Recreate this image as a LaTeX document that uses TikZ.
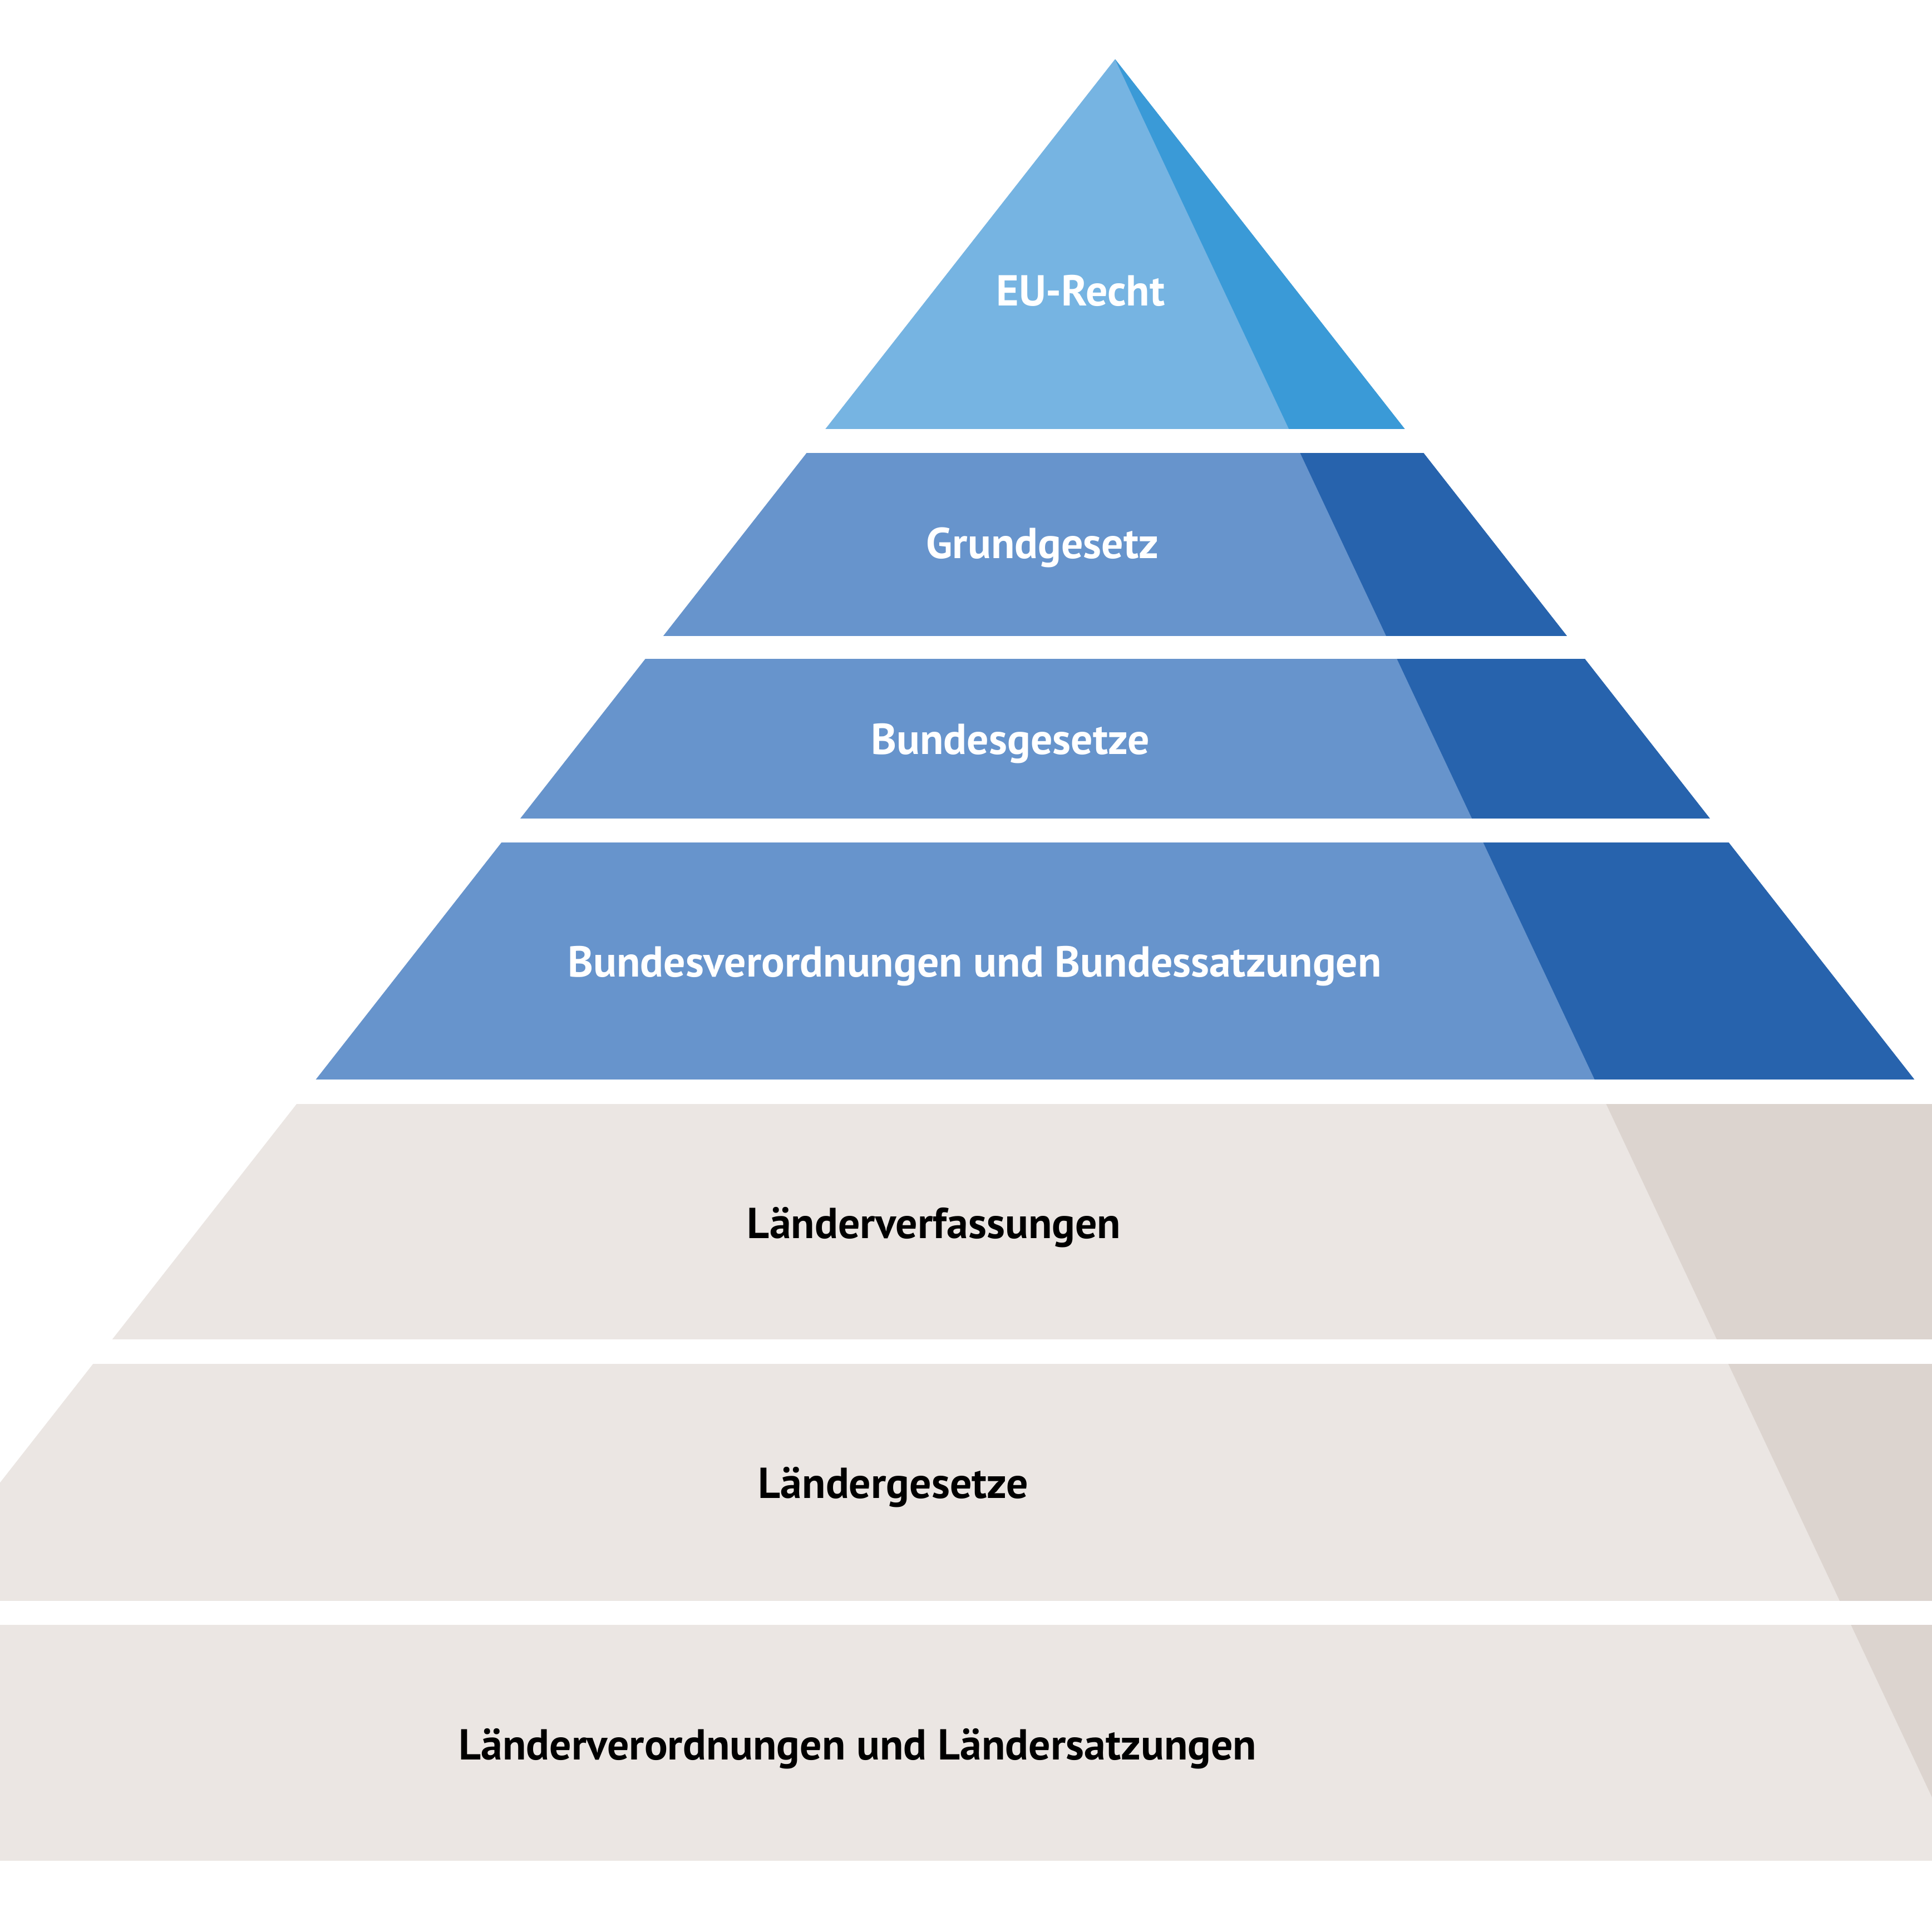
\documentclass[tikz,border=0pt]{standalone}
\usepackage{fontspec}
\setmainfont{PT Sans}
\usetikzlibrary{positioning}

\definecolor{euLight}{HTML}{76B4E2}
\definecolor{euDark}{HTML}{3A9AD7}
\definecolor{bundLight}{HTML}{6794CC}
\definecolor{bundDark}{HTML}{2763AD}
\definecolor{landLight}{HTML}{EBE6E3}
\definecolor{landDark}{HTML}{DCD4CF}

\begin{document}
\begin{tikzpicture}[x=0.01cm,y=-0.01cm,
    layertext/.style={font=\bfseries\fontsize{10}{12}\selectfont,anchor=base,inner sep=0pt}]
    \useasboundingbox (0,0) rectangle (1568,1568);
    \clip (0,0) rectangle (1568,1568);
    % Layers of the pyramid
    \foreach \ytop/\ybot/\lc/\dc in {0/348/euLight/euDark,
        368/516/bundLight/bundDark, 535/664/bundLight/bundDark,
        684/876/bundLight/bundDark, 896/1087/landLight/landDark,
        1107/1299/landLight/landDark, 1319/1510/landLight/landDark}{
        \begin{scope}
            \clip (-300,\ytop) rectangle (2100,\ybot);
            \fill[\lc] (905,48) -- (-270,1548) -- (2080,1548) -- cycle;
            \fill[\dc] (905,48) -- (1610,1548) -- (2080,1548) -- cycle;
        \end{scope}
    }
    % Labels
    \node[layertext,white] (eu) at (877,248) {EU-Recht};
    \node[layertext,white] (grund) at (846,453) {Grundgesetz};
    \node[layertext,white] (bund) at (820,612) {Bundesgesetze};
    \node[layertext,white] (bvo) at (791,793) {Bundesverordnungen und Bundessatzungen};
    \node[layertext,black] (lvf) at (758,1005) {Länderverfassungen};
    \node[layertext,black] (lg) at (725,1216) {Ländergesetze};
    \node[layertext,black] (lvo) at (696,1428) {Länderverordnungen und Ländersatzungen};
\end{tikzpicture}
\end{document}
